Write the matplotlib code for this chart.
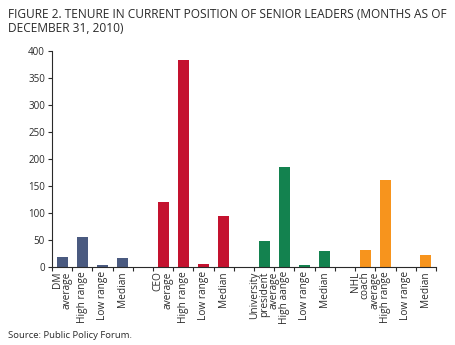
import matplotlib
matplotlib.use("Agg")
import matplotlib.pyplot as plt
import numpy as np

# categories (blank entries are the gaps between groups)
labels = ["DM\naverage", "High range", "Low range", "Median", "",
          "CEO\naverage", "High range", "Low range", "Median", "",
          "University\npresident\naverage", "High aange", "Low range", "Median", "",
          "NHL\ncoach\naverage", "High range", "Low range", "Median"]
values = [18, 55, 3, 17, 0,
          120, 383, 6, 94, 0,
          48, 185, 4, 30, 0,
          31, 161, 0.7, 22]
group = [0, 0, 0, 0, -1,
         1, 1, 1, 1, -1,
         2, 2, 2, 2, -1,
         3, 3, 3, 3]
group_colors = ["#4a5a80", "#c4122f", "#13824f", "#f7941d"]

plt.rcParams["font.family"] = ["Open Sans", "DejaVu Sans"]
txt = "#2a2a2a"

fig = plt.figure(figsize=(4.56, 3.45), dpi=100)
ax = fig.add_axes([0.114, 0.226, 0.842, 0.626])

x = np.arange(len(values))
for xi, v, g in zip(x, values, group):
    if g < 0:
        continue
    ax.bar(xi, v, width=0.55, color=group_colors[g])

ax.set_xlim(-0.5, len(values) - 0.5)
ax.set_ylim(0, 400)
ax.set_yticks(np.arange(0, 401, 50))
ax.tick_params(axis="y", labelsize=7, length=3, width=0.8, pad=2, colors=txt)

# ticks at slot boundaries, labels under bars
ax.set_xticks(np.arange(-0.5, len(values)), minor=True)
ax.set_xticks(x)
ax.set_xticklabels(labels, rotation=90, fontsize=7.3, color=txt,
                   multialignment="right", linespacing=0.85)
ax.tick_params(axis="x", which="major", length=0, pad=3)
ax.tick_params(axis="x", which="minor", length=3, width=0.8, colors=txt)

for s in ["top", "right"]:
    ax.spines[s].set_visible(False)
for s in ["left", "bottom"]:
    ax.spines[s].set_linewidth(0.8)
    ax.spines[s].set_color(txt)

fig.text(0.018, 0.978, "FIGURE 2. TENURE IN CURRENT POSITION OF SENIOR LEADERS (MONTHS AS OF\nDECEMBER 31, 2010)",
         fontsize=8.6, color=txt, va="top", ha="left", linespacing=1.1)
fig.text(0.018, 0.015, "Source: Public Policy Forum.", fontsize=6.8, color=txt,
         va="bottom", ha="left")

fig.savefig("out.png", dpi=100)
